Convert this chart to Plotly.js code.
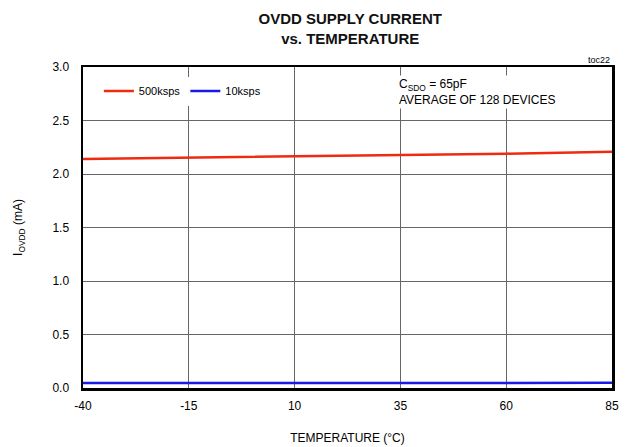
<!DOCTYPE html>
<html>
<head>
<meta charset="utf-8">
<script src="https://cdn.plot.ly/plotly-3.0.1.min.js"></script>
<style>html,body{margin:0;padding:0;background:#fff;}#chart{width:631px;height:447px;}</style>
</head>
<body>
<div id="chart"></div>
<script>
var temperature = [-40, -15, 10, 35, 60, 85];
var current500ksps = [2.14, 2.152, 2.162, 2.177, 2.19, 2.208];
var current10ksps = [0.046, 0.046, 0.047, 0.047, 0.048, 0.048];
var xTicks = [-40, -15, 10, 35, 60, 85];
var yTicks = [0, 0.5, 1.0, 1.5, 2.0, 2.5, 3.0];
var yTickLabels = ['0.0', '0.5', '1.0', '1.5', '2.0', '2.5', '3.0'];

var font = 'Arial, "Liberation Sans", sans-serif';

var traces = [
  {x: temperature, y: current500ksps, type: 'scatter', mode: 'lines', name: '500ksps',
   line: {color: '#ee2a0f', width: 2.5}},
  {x: temperature, y: current10ksps, type: 'scatter', mode: 'lines', name: '10ksps',
   line: {color: '#1a1ae6', width: 2.5}}
];

var layout = {
  width: 631, height: 447,
  margin: {l: 83, r: 19, t: 67, b: 59},
  paper_bgcolor: '#fff', plot_bgcolor: '#fff',
  font: {family: font, size: 12, color: '#000'},
  title: {text: '<b>OVDD SUPPLY CURRENT<br>vs. TEMPERATURE</b>', font: {family: font, size: 15, color: '#111'},
          x: 0.555, xanchor: 'center', y: 0.946, yanchor: 'top'},
  showlegend: true,
  legend: {orientation: 'h', x: 0.03, y: 0.925, xanchor: 'left', yanchor: 'middle',
           bgcolor: '#fff', font: {family: font, size: 11, color: '#000'},
           itemwidth: 30, tracegroupgap: 0},
  xaxis: {
    range: [-40, 85], tickvals: xTicks, ticktext: xTicks.map(String),
    showgrid: true, gridcolor: '#666', gridwidth: 1,
    showline: true, linecolor: '#000', linewidth: 2.5, mirror: true,
    ticks: '', zeroline: false, tickfont: {family: font, size: 12}, ticklabelstandoff: 5,
    title: {text: 'TEMPERATURE (°C)', font: {family: font, size: 12}, standoff: 22}
  },
  yaxis: {
    range: [0, 3], tickvals: yTicks, ticktext: yTickLabels,
    showgrid: true, gridcolor: '#666', gridwidth: 1,
    showline: true, linecolor: '#000', linewidth: 2.5, mirror: true,
    ticks: '', zeroline: false, tickfont: {family: font, size: 12}, ticklabelstandoff: 9,
    title: {text: 'I<sub>OVDD</sub> (mA)', font: {family: font, size: 12}, standoff: 27}
  },
  annotations: [
    {xref: 'paper', yref: 'paper', x: 0.594, y: 0.975, xanchor: 'left', yanchor: 'top', align: 'left',
     text: 'C<sub>SDO</sub> = 65pF<br>AVERAGE OF 128 DEVICES', showarrow: false,
     bgcolor: '#fff', font: {family: font, size: 12}},
    {xref: 'paper', yref: 'paper', x: 1.0, y: 1.0, xanchor: 'right', yanchor: 'bottom',
     text: 'toc22', showarrow: false, font: {family: font, size: 9}}
  ]
};

Plotly.newPlot('chart', traces, layout, {displayModeBar: false, staticPlot: true});
</script>
</body>
</html>
